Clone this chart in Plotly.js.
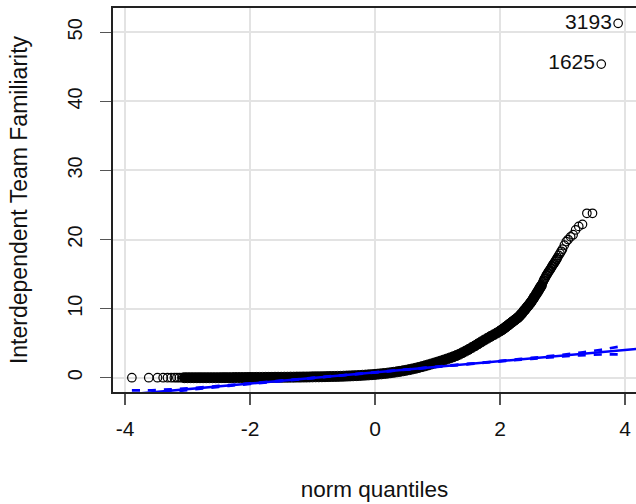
<!DOCTYPE html>
<html>
<head>
<meta charset="utf-8">
<script src="https://cdn.plot.ly/plotly-3.0.1.min.js"></script>
<style>html,body{margin:0;padding:0;background:#fff;}#chart{width:636px;height:504px;}</style>
</head>
<body>
<div id="chart"></div>
<script>
// ---- data (QQ plot vs normal quantiles) ----
// dense body of the sample (theoretical quantile, observed value)
var bodyQuantiles = [-3.05,-3.00,-2.95,-2.90,-2.85,-2.80,-2.75,-2.70,-2.65,-2.60,-2.55,-2.50,-2.45,-2.40,-2.35,-2.30,-2.25,-2.20,-2.15,-2.10,-2.05,
  -2.00,-1.95,-1.90,-1.85,-1.80,-1.75,-1.70,-1.65,-1.60,-1.55,-1.50,-1.45,-1.40,-1.35,-1.30,-1.25,-1.20,-1.15,-1.10,-1.05,
  -1.00,-0.95,-0.90,-0.85,-0.80,-0.75,-0.70,-0.65,-0.60,-0.55,-0.50,-0.45,-0.40,-0.35,-0.30,-0.25,-0.20,-0.15,-0.10,-0.05,
  0.00,0.05,0.10,0.15,0.20,0.25,0.30,0.35,0.40,0.45,0.50,0.55,0.60,0.65,0.70,0.75,0.80,0.85,0.90,0.95,
  1.00,1.05,1.10,1.15,1.20,1.25,1.30,1.35,1.40,1.45,1.50,1.55,1.60,1.65,1.70,1.75,1.80,1.85,1.90,1.95,
  2.00,2.03,2.05,2.08,2.10,2.13,2.15,2.18,2.20,2.23,2.25,2.28,2.30,2.33,2.35,2.38,2.40,2.43,2.45,2.48,2.50,2.53,2.55,2.58,2.60,2.62,2.64,2.66];
var bodyValues = [0,0,0,0,0,0,0,0,0,0,0,0,0.01,0.01,0.01,0.01,0.02,0.02,0.02,0.02,0.03,
  0.03,0.03,0.04,0.04,0.04,0.05,0.05,0.05,0.06,0.06,0.06,0.07,0.07,0.08,0.08,0.09,0.09,0.10,0.10,0.11,
  0.12,0.13,0.13,0.14,0.15,0.16,0.17,0.18,0.19,0.20,0.22,0.24,0.26,0.28,0.30,0.32,0.35,0.38,0.41,0.44,
  0.48,0.52,0.56,0.61,0.66,0.72,0.78,0.85,0.92,1.00,1.08,1.17,1.27,1.37,1.48,1.60,1.72,1.85,1.98,2.12,
  2.26,2.40,2.55,2.70,2.86,3.02,3.20,3.40,3.62,3.86,4.10,4.36,4.62,4.90,5.18,5.45,5.72,5.98,6.22,6.48,
  6.75,6.93,7.05,7.25,7.40,7.60,7.75,7.95,8.10,8.30,8.45,8.65,8.80,9.10,9.30,9.65,9.85,10.20,10.40,10.75,11.00,11.40,11.70,12.10,12.40,12.70,13.00,13.30];

// sparse tails (individually visible circles)
var lowTailQuantiles = [-3.89,-3.62,-3.48,-3.39,-3.32,-3.26,-3.21,-3.17,-3.13,-3.09];
var lowTailValues    = [0,0,0,0,0,0,0,0,0,0];
var highTailQuantiles = [2.67,2.68,2.69,2.70,2.71,2.72,2.73,2.74,2.75,2.76,2.77,2.78,2.79,2.80,2.81,2.82,2.83,2.84,2.85,2.86,2.87,2.88,2.89,2.90,2.91,2.92,2.94,2.96,2.98,3.00,3.03,3.06,3.09,3.13,3.17,3.21,3.26,3.32,3.39,3.48];
var highTailValues    = [13.5,13.7,13.9,14.1,14.3,14.4,14.6,14.8,14.9,15.1,15.2,15.4,15.5,15.6,15.8,15.9,16.1,16.2,16.4,16.5,16.6,16.8,16.9,17.1,17.2,17.4,17.7,18.0,18.3,18.6,19.2,19.7,20.0,20.4,20.7,21.4,21.9,22.2,23.8,23.8];

// labelled outliers
var outlierQuantiles = [3.62, 3.89];
var outlierValues    = [45.4, 51.3];
var outlierLabels    = ["1625", "3193"];

// reference line and its dashed confidence envelope
var refLineX = [-4.2, 4.2];
var refLineY = [-2.63, 4.17];
var envX     = [-3.89,-3.75,-3.62,-3.4,-3.2,-3.0,-2.5,-2.0,-1.0,0,1.0,2.0,2.5,3.0,3.2,3.4,3.62,3.75,3.89];
var envUpper = [-1.83,-1.83,-1.82,-1.74,-1.65,-1.53,-1.19,-0.81,-0.02,0.79,1.61,2.44,2.87,3.33,3.54,3.76,4.06,4.25,4.47];
var envLower = [-2.93,-2.72,-2.52,-2.22,-2.00,-1.79,-1.33,-0.90,-0.06,0.75,1.56,2.35,2.73,3.07,3.19,3.28,3.36,3.37,3.37];

var xTicks = [-4,-2,0,2,4];
var yTicks = [0,10,20,30,40,50];
var xTitle = "norm quantiles";
var yTitle = "Interdependent Team Familiarity";

var FONT = "Liberation Sans, Arial, Helvetica, sans-serif";
var openMarker = {symbol:"circle-open", size:8.5, color:"#000", line:{width:1.2, color:"#000"}};

var traces = [
  {x: bodyQuantiles, y: bodyValues, type:"scatter", mode:"markers",
   marker:{symbol:"circle", size:10, color:"#000", line:{width:1, color:"#000"}}, hoverinfo:"x+y"},
  {x: lowTailQuantiles, y: lowTailValues, type:"scatter", mode:"markers", marker: openMarker},
  {x: highTailQuantiles, y: highTailValues, type:"scatter", mode:"markers", marker: openMarker},
  {x: outlierQuantiles, y: outlierValues, text: outlierLabels, type:"scatter", mode:"markers+text",
   textposition:"middle left", textfont:{family:FONT, size:21, color:"#111"}, marker: openMarker},
  {x: refLineX, y: refLineY, type:"scatter", mode:"lines", line:{color:"#0000ff", width:2.6}},
  {x: envX, y: envUpper, type:"scatter", mode:"lines", line:{color:"#0000ff", width:2.6, dash:"8px,8px", shape:"spline"}},
  {x: envX, y: envLower, type:"scatter", mode:"lines", line:{color:"#0000ff", width:2.6, dash:"8px,8px", shape:"spline"}}
];

var layout = {
  width: 636, height: 504,
  margin: {l:113, r:0, t:8, b:112, pad:0},
  paper_bgcolor:"#fff", plot_bgcolor:"#fff",
  showlegend:false,
  font:{family:FONT, color:"#111"},
  xaxis:{
    range:[-4.192, 4.176], tickvals:xTicks, ticktext:xTicks.map(String),
    ticks:"outside", ticklen:11, tickwidth:1.4, tickcolor:"#555",
    showline:true, linecolor:"#222", linewidth:1.6, mirror:true,
    showgrid:true, gridcolor:"#e3e3e3", gridwidth:2, zeroline:false,
    tickfont:{family:FONT, size:21, color:"#111"}, ticklabelstandoff:6,
    title:{text:xTitle, font:{family:FONT, size:22.5, color:"#111"}, standoff:42}
  },
  yaxis:{
    range:[-2.07, 53.52], tickvals:yTicks, ticktext:yTicks.map(String), tickangle:-90,
    ticks:"outside", ticklen:11, tickwidth:1.4, tickcolor:"#555",
    showline:true, linecolor:"#222", linewidth:1.6, mirror:false,
    showgrid:true, gridcolor:"#e3e3e3", gridwidth:2, zeroline:false,
    tickfont:{family:FONT, size:20, color:"#111"}, ticklabelstandoff:10,
    title:{text:yTitle, font:{family:FONT, size:23, color:"#111"}, standoff:30}
  }
};

Plotly.newPlot("chart", traces, layout, {displayModeBar:false, staticPlot:true});
</script>
</body>
</html>
